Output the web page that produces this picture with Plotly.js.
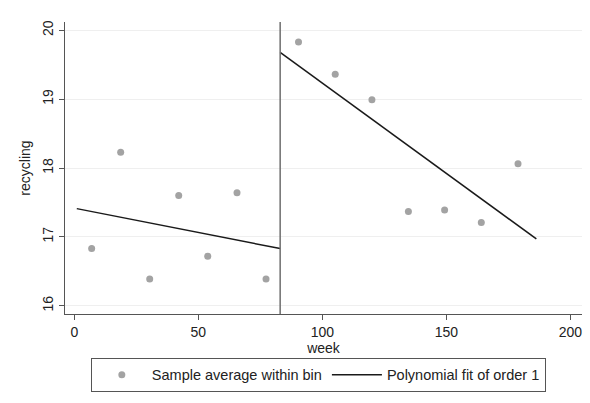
<!DOCTYPE html>
<html>
<head>
<meta charset="utf-8">
<script src="https://cdn.plot.ly/plotly-3.0.1.min.js"></script>
<style>html,body{margin:0;padding:0;background:#fff;}#chart{width:590px;height:403px;}</style>
</head>
<body>
<div id="chart"></div>
<script>
// Bin averages
var binWeek = [7, 18.7, 30.4, 42.1, 53.8, 65.6, 77.3, 90.4, 105.2, 120.0, 134.7, 149.3, 164.1, 178.9];
var binRecycling = [16.83, 18.23, 16.39, 17.60, 16.72, 17.64, 16.39, 19.83, 19.36, 18.99, 17.37, 17.39, 17.21, 18.06];
// Linear fits on each side of the cutoff
var fitLeftWeek = [1, 83];
var fitLeftRecycling = [17.41, 16.83];
var fitRightWeek = [83, 186.3];
var fitRightRecycling = [19.68, 16.97];
var cutoffWeek = 83;
var xTicks = [0, 50, 100, 150, 200];
var yTicks = [16, 17, 18, 19, 20];

var font = {family: 'Liberation Sans, Arial, sans-serif', size: 14, color: '#222'};
var legendFont = {family: 'Liberation Sans, Arial, sans-serif', size: 14.5, color: '#222'};

var traces = [
  {x: binWeek, y: binRecycling, type: 'scatter', mode: 'markers',
   name: 'Sample average within bin',
   marker: {color: '#a3a3a3', size: 7}},
  {x: fitLeftWeek, y: fitLeftRecycling, type: 'scatter', mode: 'lines',
   name: 'Polynomial fit of order 1',
   line: {color: '#1a1a1a', width: 1.5}},
  {x: fitRightWeek, y: fitRightRecycling, type: 'scatter', mode: 'lines',
   name: 'Polynomial fit of order 1', showlegend: false,
   line: {color: '#1a1a1a', width: 1.5}}
];

var layout = {
  width: 590, height: 403,
  margin: {l: 65, r: 8, t: 22, b: 89},
  paper_bgcolor: '#fff', plot_bgcolor: '#fff',
  font: font,
  showlegend: true,
  xaxis: {
    range: [-3.75, 204.7],
    tickvals: xTicks, ticktext: xTicks.map(String),
    ticks: 'outside', ticklen: 5, tickcolor: '#555',
    showline: true, linecolor: '#555', linewidth: 1.3,
    showgrid: false, zeroline: false,
    title: {text: 'week', font: font, standoff: 1}
  },
  yaxis: {
    range: [15.88, 20.12],
    tickvals: yTicks, ticktext: yTicks.map(String),
    tickangle: -90,
    ticks: 'outside', ticklen: 5, tickcolor: '#555',
    showline: true, linecolor: '#555', linewidth: 1.3,
    showgrid: true, gridcolor: '#efefef', gridwidth: 1,
    zeroline: false,
    title: {text: 'recycling', font: font, standoff: 6}
  },
  legend: {
    orientation: 'h', x: 0.49, xanchor: 'center', y: -0.15, yanchor: 'top',
    bordercolor: '#555', borderwidth: 1, bgcolor: '#fff',
    font: legendFont, itemwidth: 50, tracegroupgap: 0
  },
  shapes: [
    {type: 'line', xref: 'x', yref: 'paper', x0: cutoffWeek, x1: cutoffWeek, y0: 0, y1: 1,
     line: {color: '#6e6e6e', width: 1.5}}
  ]
};

Plotly.newPlot('chart', traces, layout, {displayModeBar: false, staticPlot: true});
</script>
</body>
</html>
